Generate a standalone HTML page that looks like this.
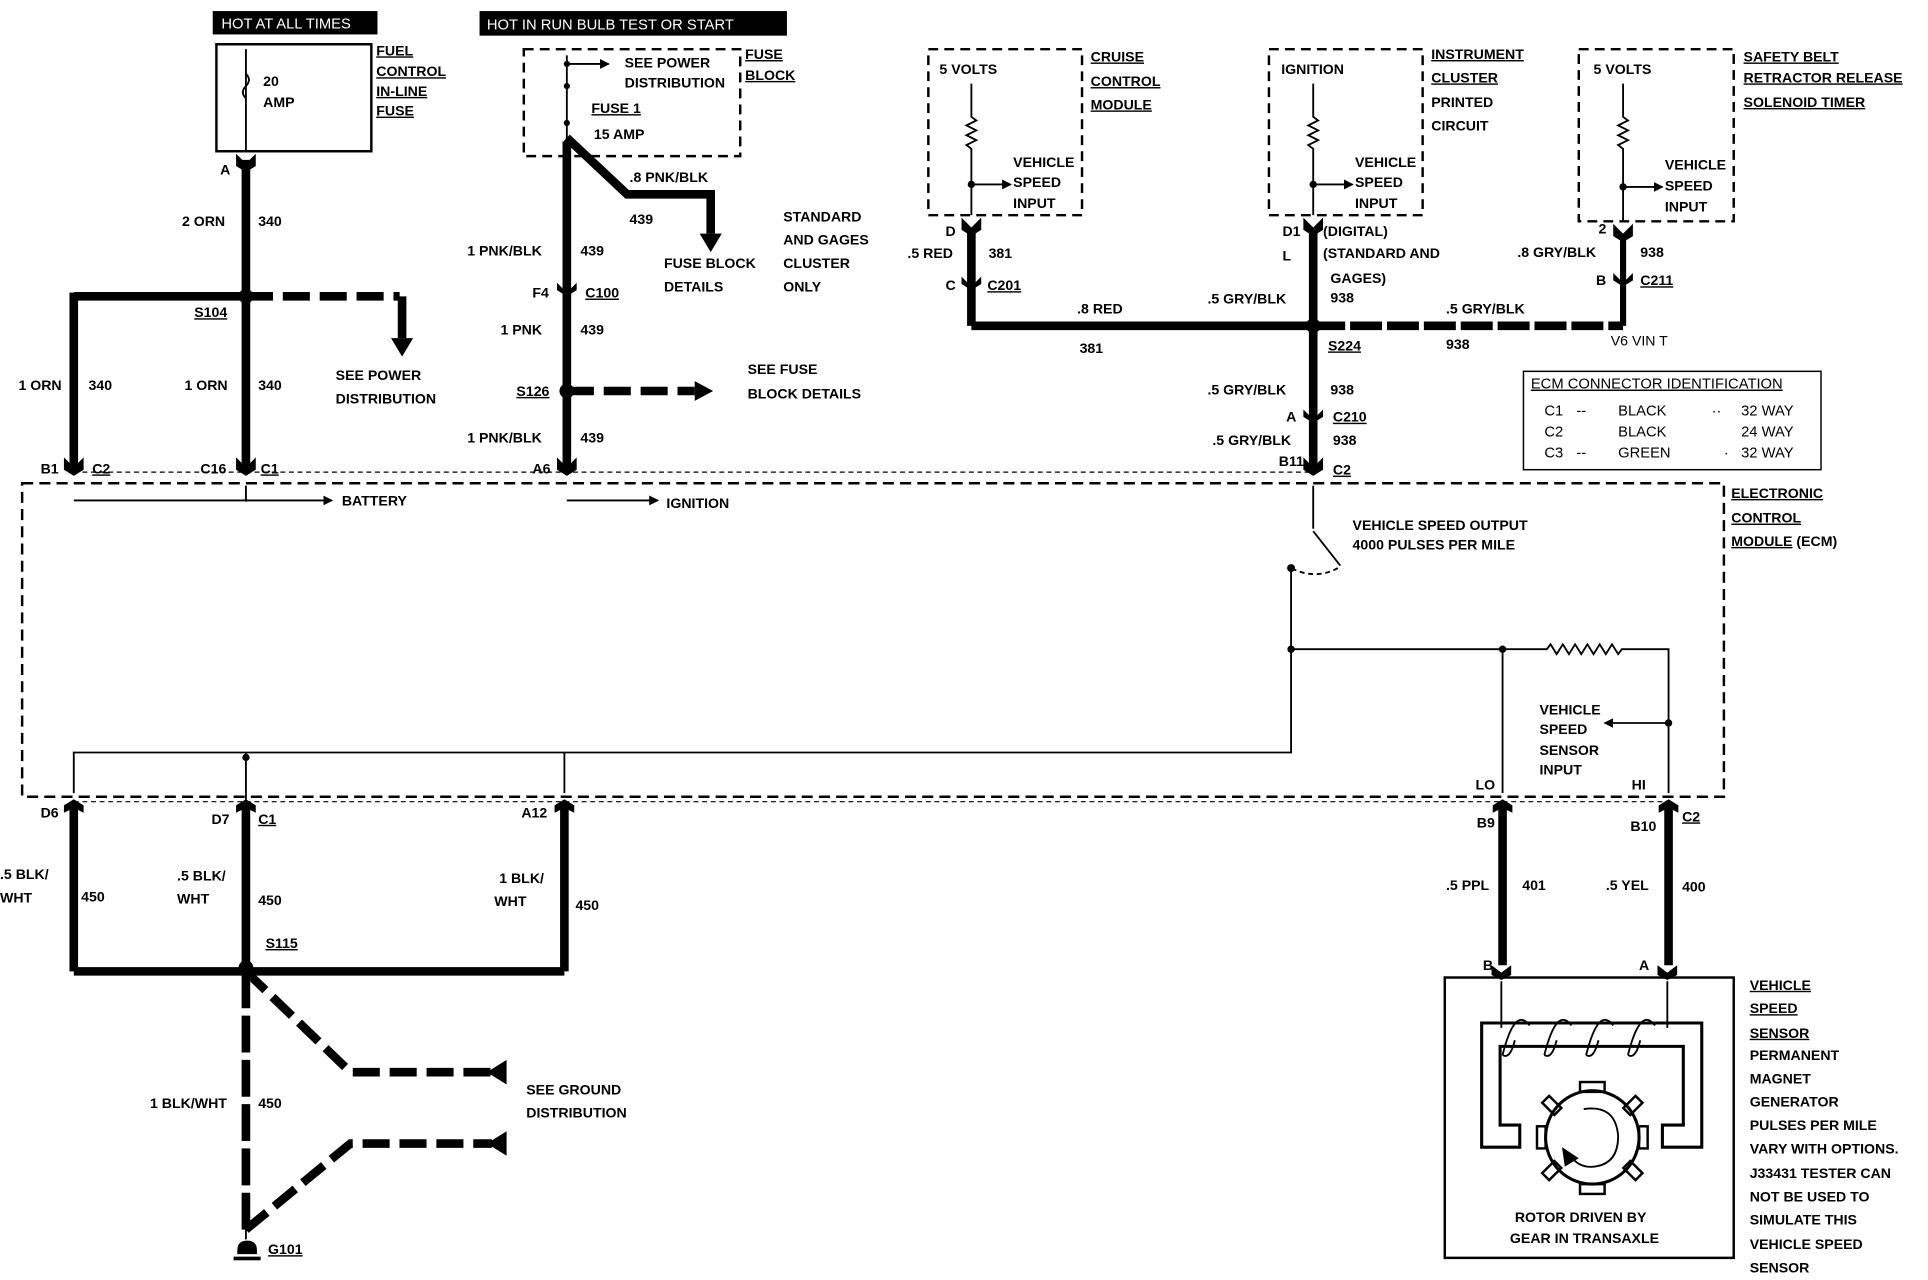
<!DOCTYPE html>
<html><head><meta charset="utf-8"><style>
html,body{margin:0;padding:0;background:#fff}
svg{display:block}
text{font-family:"Liberation Sans",sans-serif;font-weight:bold;font-size:11.5px;fill:#000}
.u{text-decoration:underline}
.n{font-weight:normal;font-size:12px}
</style></head><body>
<svg width="1928" height="1280" viewBox="0 0 1568 1041" preserveAspectRatio="none" xmlns="http://www.w3.org/2000/svg">
<defs>
<marker id="ar" markerWidth="8" markerHeight="8" refX="7" refY="4" orient="auto" markerUnits="userSpaceOnUse"><path d="M0,0 L8,4 L0,8 z" fill="#000"/></marker>
</defs>
<g stroke="#000" fill="none">
<rect x="176" y="36" width="126" height="87" stroke-width="2"/>
<line x1="200" y1="40" x2="200" y2="123" stroke-width="1.5"/>
<path d="M200,60 q5,5 0,10 q-5,5 0,10" stroke-width="1.5"/>
<line x1="200" y1="130" x2="200" y2="380" stroke-width="7"/>
<line x1="60" y1="241" x2="200" y2="241" stroke-width="7"/>
<line x1="60" y1="238" x2="60" y2="380" stroke-width="7"/>
<line x1="200" y1="241" x2="325" y2="241" stroke-width="7" stroke-dasharray="22,8"/>
<line x1="327" y1="241" x2="327" y2="275" stroke-width="7"/>
<rect x="426" y="40" width="176" height="87" stroke-width="2" stroke-dasharray="8,5"/>
<line x1="461" y1="45" x2="461" y2="115" stroke-width="1.5"/>
<line x1="461" y1="52" x2="495" y2="52" stroke-width="1.5" marker-end="url(#ar)"/>
<line x1="461" y1="115" x2="461" y2="380" stroke-width="7"/>
<path d="M461,112 L510,158 L578,158 L578,190" stroke-width="7"/>
<line x1="461" y1="318" x2="565" y2="318" stroke-width="7" stroke-dasharray="22,8"/>
<rect x="18" y="393" width="1384" height="255" stroke-width="2" stroke-dasharray="9,5"/>
<line x1="60" y1="384" x2="1068" y2="384" stroke-width="1" stroke-dasharray="4,3"/>
<line x1="60" y1="652" x2="1357" y2="652" stroke-width="1" stroke-dasharray="4,3"/>
<line x1="200" y1="395" x2="200" y2="408" stroke-width="1.5"/>
<line x1="60" y1="407" x2="270" y2="407" stroke-width="1.5" marker-end="url(#ar)"/>
<line x1="461" y1="407" x2="535" y2="407" stroke-width="1.5" marker-end="url(#ar)"/>
<rect x="755" y="40" width="125" height="135" stroke-width="2" stroke-dasharray="8,5"/>
<rect x="1032" y="40" width="125" height="135" stroke-width="2" stroke-dasharray="8,5"/>
<rect x="1284" y="40" width="126" height="140" stroke-width="2" stroke-dasharray="8,5"/>
<g stroke-width="1.5">
<path d="M790,68 V95 l4,3 -8,4 8,4 -8,4 8,4 -8,4 4,3 V175"/>
<line x1="790" y1="150" x2="822" y2="150" marker-end="url(#ar)"/>
<path d="M1068,68 V95 l4,3 -8,4 8,4 -8,4 8,4 -8,4 4,3 V175"/>
<line x1="1068" y1="150" x2="1100" y2="150" marker-end="url(#ar)"/>
<path d="M1320,68 V95 l4,3 -8,4 8,4 -8,4 8,4 -8,4 4,3 V180"/>
<line x1="1320" y1="152" x2="1352" y2="152" marker-end="url(#ar)"/>
</g>
<line x1="790" y1="185" x2="790" y2="265" stroke-width="7"/>
<line x1="790" y1="265" x2="1068" y2="265" stroke-width="7"/>
<line x1="1068" y1="185" x2="1068" y2="380" stroke-width="7"/>
<line x1="1068" y1="265" x2="1320" y2="265" stroke-width="7" stroke-dasharray="26,4"/>
<line x1="1320" y1="190" x2="1320" y2="265" stroke-width="5"/>
<g stroke-width="1.5">
<line x1="1068" y1="395" x2="1068" y2="430"/>
<path d="M1068,432 L1090,460"/>
<path d="M1088,462 q-18,10 -38,0" stroke-dasharray="4,3"/>
<circle cx="1050" cy="462" r="2.5" fill="#000"/>
<path d="M1050,462 V612 H60 V645"/>
<line x1="200" y1="612" x2="200" y2="645"/>
<line x1="459" y1="612" x2="459" y2="645"/>
<path d="M1050,528 H1258 l3,-4 5,8 5,-8 5,8 5,-8 5,8 5,-8 5,8 5,-8 5,8 5,-8 5,8 3,-4 H1357 V645"/>
<line x1="1222" y1="528" x2="1222" y2="645"/>
<line x1="1357" y1="588" x2="1305" y2="588" marker-end="url(#ar)"/>
</g>
<line x1="60" y1="655" x2="60" y2="790" stroke-width="7"/>
<line x1="459" y1="655" x2="459" y2="790" stroke-width="7"/>
<line x1="60" y1="790" x2="459" y2="790" stroke-width="7"/>
<line x1="200" y1="655" x2="200" y2="790" stroke-width="7"/>
<line x1="200" y1="790" x2="200" y2="1000" stroke-width="7" stroke-dasharray="30,6"/>
<path d="M200,790 L285,872 H400" stroke-width="7" stroke-dasharray="22,8"/>
<path d="M200,1000 L285,930 H400" stroke-width="7" stroke-dasharray="22,8"/>
<line x1="1222" y1="655" x2="1222" y2="785" stroke-width="7"/>
<line x1="1357" y1="655" x2="1357" y2="785" stroke-width="7"/>
<rect x="1175" y="795" width="235" height="228" stroke-width="2"/>
<path d="M1221,798 V836 M1356,798 V836" stroke-width="1.5"/>
<path d="M1205,832 H1384 V933 H1352 V915 H1369 V851 H1220 V915 H1236 V933 H1205 Z" stroke-width="2.5"/>
<path d="M1222,858 q10,-40 22,-24 M1256,858 q10,-40 22,-24 M1290,858 q10,-40 22,-24 M1324,858 q10,-40 22,-24" stroke-width="1.5"/>
<path d="M1222,858 q6,4 10,-12 M1256,858 q6,4 10,-12 M1290,858 q6,4 10,-12 M1324,858 q6,4 10,-12" stroke-width="1.5"/>
<circle cx="1295" cy="925" r="38" stroke-width="2.5"/>
<path d="M1288,902 q26,-4 28,22 q0,24 -22,25 q-10,0 -16,-8" stroke-width="1.5"/>
<path d="M1271,934 l2,14 10,-6 z" fill="#000"/>
<rect x="1285" y="880" width="20" height="8" stroke-width="2"/>
<rect x="1285" y="963" width="20" height="8" stroke-width="2"/>
<rect x="1250" y="916" width="7" height="18" stroke-width="2"/>
<rect x="1333" y="916" width="7" height="18" stroke-width="2"/>
<rect x="1258" y="892" width="8" height="14" stroke-width="2" transform="rotate(-45 1262 899)"/>
<rect x="1324" y="892" width="8" height="14" stroke-width="2" transform="rotate(45 1328 899)"/>
<rect x="1258" y="945" width="8" height="14" stroke-width="2" transform="rotate(45 1262 952)"/>
<rect x="1324" y="945" width="8" height="14" stroke-width="2" transform="rotate(-45 1328 952)"/>
</g>
<g fill="#000">
<path d="M318,275 L336,275 L327,290 z"/>
<path d="M569,190 L587,190 L578,205 z"/>
<path d="M565,310 L580,318 L565,326 z"/>
<path d="M396,872 L412,862 L412,882 z"/>
<path d="M396,930 L412,920 L412,940 z"/>
<path d="M52,372 l8,8 8,-8 v10 l-8,5 -8,-5 z"/>
<path d="M192,372 l8,8 8,-8 v10 l-8,5 -8,-5 z"/>
<path d="M453,372 l8,8 8,-8 v10 l-8,5 -8,-5 z"/>
<path d="M1060,372 l8,8 8,-8 v10 l-8,5 -8,-5 z"/>
<path d="M192,125 l8,8 8,-8 v10 l-8,5 -8,-5 z"/>
<path d="M782,177 l8,8 8,-8 v10 l-8,5 -8,-5 z"/>
<path d="M1060,177 l8,8 8,-8 v10 l-8,5 -8,-5 z"/>
<path d="M1312,182 l8,8 8,-8 v10 l-8,5 -8,-5 z"/>
<path d="M453,230 l8,8 8,-8 v6 l-8,5 -8,-5 z"/>
<path d="M782,225 l8,8 8,-8 v6 l-8,5 -8,-5 z"/>
<path d="M1312,222 l8,8 8,-8 v6 l-8,5 -8,-5 z"/>
<path d="M1060,333 l8,8 8,-8 v6 l-8,5 -8,-5 z"/>
<path d="M52,655 l8,-5 8,5 v6 l-8,-4 -8,4 z"/>
<path d="M192,655 l8,-5 8,5 v6 l-8,-4 -8,4 z"/>
<path d="M451,655 l8,-5 8,5 v6 l-8,-4 -8,4 z"/>
<path d="M1214,655 l8,-5 8,5 v6 l-8,-4 -8,4 z"/>
<path d="M1349,655 l8,-5 8,5 v6 l-8,-4 -8,4 z"/>
<path d="M1213,785 l8,6 8,-6 v8 l-8,4 -8,-4 z"/>
<path d="M1348,785 l8,6 8,-6 v8 l-8,4 -8,-4 z"/>
<circle cx="200" cy="241" r="6"/><circle cx="461" cy="318" r="6"/>
<circle cx="1068" cy="265" r="6"/><circle cx="200" cy="787" r="6"/>
<circle cx="200" cy="616" r="3"/><circle cx="1050" cy="528" r="3"/>
<circle cx="1222" cy="528" r="3"/><circle cx="1357" cy="588" r="3"/>
<circle cx="790" cy="150" r="3"/><circle cx="1068" cy="150" r="3"/><circle cx="1320" cy="152" r="3"/>
<circle cx="461" cy="52" r="2.5"/><circle cx="461" cy="70" r="2.5"/><circle cx="461" cy="100" r="2.5"/>
<rect x="173" y="9" width="134" height="19"/>
<rect x="390" y="9" width="250" height="20"/>
<path d="M193,1020 h16 v-3 q0,-8 -8,-8 q-8,0 -8,8 z"/>
<rect x="190" y="1022" width="22" height="3"/>
</g>
<g stroke="#000" fill="none" stroke-width="1.5">
<line x1="200" y1="645" x2="200" y2="655"/>
<line x1="200" y1="1000" x2="200" y2="1008"/>
</g>
<text x="180" y="23" style="fill:#fff;font-weight:normal;font-size:12px">HOT AT ALL TIMES</text>
<text x="396" y="24" style="fill:#fff;font-weight:normal;font-size:12px">HOT IN RUN  BULB TEST OR START</text>
<text x="214" y="70" font-size="9">20</text><text x="214" y="87" font-size="9">AMP</text>
<text x="306" y="45" class="u">FUEL</text><text x="306" y="62" class="u">CONTROL</text><text x="306" y="78" class="u">IN-LINE</text><text x="306" y="94" class="u">FUSE</text>
<text x="179" y="142">A</text>
<text x="148" y="184">2 ORN</text><text x="210" y="184">340</text>
<text x="158" y="258" class="u">S104</text>
<text x="273" y="309">SEE POWER</text><text x="273" y="328">DISTRIBUTION</text>
<text x="15" y="317">1 ORN</text><text x="72" y="317">340</text><text x="150" y="317">1 ORN</text><text x="210" y="317">340</text>
<text x="33" y="385">B1</text><text x="75" y="385" class="u">C2</text><text x="163" y="385">C16</text><text x="212" y="385" class="u">C1</text>
<text x="278" y="411" font-size="10.5">BATTERY</text><text x="542" y="413" font-size="10.5">IGNITION</text>
<text x="508" y="55" font-size="10">SEE POWER</text><text x="508" y="71" font-size="10">DISTRIBUTION</text>
<text x="481" y="92" class="u">FUSE 1</text><text x="483" y="113" font-size="10">15 AMP</text>
<text x="606" y="48" class="u">FUSE</text><text x="606" y="65" class="u">BLOCK</text>
<text x="512" y="148">.8 PNK/BLK</text><text x="512" y="182">439</text>
<text x="540" y="218">FUSE BLOCK</text><text x="540" y="237">DETAILS</text>
<text x="637" y="180">STANDARD</text><text x="637" y="199">AND GAGES</text><text x="637" y="218">CLUSTER</text><text x="637" y="237">ONLY</text>
<text x="380" y="208">1 PNK/BLK</text><text x="472" y="208">439</text>
<text x="433" y="242">F4</text><text x="476" y="242" class="u">C100</text>
<text x="407" y="272">1 PNK</text><text x="472" y="272">439</text>
<text x="420" y="322" class="u">S126</text>
<text x="608" y="304">SEE FUSE</text><text x="608" y="324">BLOCK DETAILS</text>
<text x="380" y="360">1 PNK/BLK</text><text x="472" y="360">439</text><text x="433" y="385">A6</text>
<text x="764" y="60" font-size="10">5 VOLTS</text><text x="824" y="136" font-size="10">VEHICLE</text><text x="824" y="152" font-size="10">SPEED</text><text x="824" y="169" font-size="10">INPUT</text>
<text x="887" y="50" class="u">CRUISE</text><text x="887" y="70" class="u">CONTROL</text><text x="887" y="89" class="u">MODULE</text>
<text x="1042" y="60" font-size="10">IGNITION</text><text x="1102" y="136" font-size="10">VEHICLE</text><text x="1102" y="152" font-size="10">SPEED</text><text x="1102" y="169" font-size="10">INPUT</text>
<text x="1164" y="48" class="u">INSTRUMENT</text><text x="1164" y="67" class="u">CLUSTER</text><text x="1164" y="87">PRINTED</text><text x="1164" y="106">CIRCUIT</text>
<text x="1296" y="60" font-size="10">5 VOLTS</text><text x="1354" y="138" font-size="10">VEHICLE</text><text x="1354" y="155" font-size="10">SPEED</text><text x="1354" y="172" font-size="10">INPUT</text>
<text x="1418" y="50" class="u">SAFETY BELT</text><text x="1418" y="67" class="u">RETRACTOR RELEASE</text><text x="1418" y="87" class="u">SOLENOID TIMER</text>
<text x="769" y="192">D</text><text x="738" y="210">.5 RED</text><text x="804" y="210">381</text>
<text x="769" y="236">C</text><text x="803" y="236" class="u">C201</text>
<text x="876" y="255">.8 RED</text><text x="878" y="287">381</text>
<text x="982" y="247">.5 GRY/BLK</text>
<text x="1043" y="192">D1</text><text x="1076" y="192">(DIGITAL)</text>
<text x="1043" y="212">L</text><text x="1076" y="210">(STANDARD AND</text><text x="1082" y="230">GAGES)</text><text x="1082" y="246">938</text>
<text x="1234" y="209">.8 GRY/BLK</text><text x="1300" y="190">2</text><text x="1334" y="209">938</text>
<text x="1298" y="232">B</text><text x="1334" y="232" class="u">C211</text>
<text x="1176" y="255">.5 GRY/BLK</text><text x="1176" y="284">938</text>
<text x="1080" y="285" class="u">S224</text>
<text x="1310" y="281" style="font-weight:normal">V6 VIN T</text>
<text x="982" y="321">.5 GRY/BLK</text><text x="1082" y="321">938</text>
<text x="1046" y="343">A</text><text x="1084" y="343" class="u">C210</text>
<text x="986" y="362">.5 GRY/BLK</text><text x="1084" y="362">938</text>
<text x="1040" y="379">B11</text><text x="1084" y="386" class="u">C2</text>
<rect x="1239" y="302" width="242" height="80" fill="none" stroke="#000" stroke-width="1.2"/>
<text x="1245" y="316" class="u n">ECM CONNECTOR IDENTIFICATION</text>
<text x="1256" y="338" class="n">C1</text><text x="1282" y="338" class="n">--</text><text x="1316" y="338" class="n">BLACK</text><text x="1392" y="338" class="n">··</text><text x="1416" y="338" class="n">32 WAY</text>
<text x="1256" y="355" class="n">C2</text><text x="1316" y="355" class="n">BLACK</text><text x="1416" y="355" class="n">24 WAY</text>
<text x="1256" y="372" class="n">C3</text><text x="1282" y="372" class="n">--</text><text x="1316" y="372" class="n">GREEN</text><text x="1402" y="372" class="n">·</text><text x="1416" y="372" class="n">32 WAY</text>
<text x="1408" y="405" class="u">ELECTRONIC</text><text x="1408" y="425" class="u">CONTROL</text><text x="1408" y="444"><tspan class="u">MODULE</tspan> (ECM)</text>
<text x="1100" y="431" font-size="10.5">VEHICLE SPEED OUTPUT</text><text x="1100" y="447" font-size="10.5">4000 PULSES PER MILE</text>
<text x="1252" y="581" font-size="10.5">VEHICLE</text><text x="1252" y="597" font-size="10.5">SPEED</text><text x="1252" y="614" font-size="10.5">SENSOR</text><text x="1252" y="630" font-size="10.5">INPUT</text>
<text x="1200" y="642" font-size="10">LO</text><text x="1327" y="642" font-size="10">HI</text>
<text x="33" y="665">D6</text><text x="172" y="670">D7</text><text x="210" y="670" class="u">C1</text><text x="424" y="665">A12</text>
<text x="1201" y="673">B9</text><text x="1326" y="676">B10</text><text x="1368" y="668" class="u">C2</text>
<text x="0" y="715">.5 BLK/</text><text x="0" y="734">WHT</text><text x="66" y="733">450</text>
<text x="144" y="716">.5 BLK/</text><text x="144" y="735">WHT</text><text x="210" y="736">450</text>
<text x="406" y="718">1 BLK/</text><text x="402" y="737">WHT</text><text x="468" y="740">450</text>
<text x="216" y="771" class="u">S115</text>
<text x="1176" y="724">.5 PPL</text><text x="1238" y="724">401</text><text x="1306" y="724">.5 YEL</text><text x="1368" y="725">400</text>
<text x="1206" y="789">B</text><text x="1333" y="789">A</text>
<text x="428" y="890">SEE GROUND</text><text x="428" y="909">DISTRIBUTION</text>
<text x="122" y="901">1 BLK/WHT</text><text x="210" y="901">450</text>
<text x="218" y="1020" class="u">G101</text>
<text x="1232" y="994" font-size="10.5">ROTOR DRIVEN BY</text><text x="1228" y="1011" font-size="10.5">GEAR IN TRANSAXLE</text>
<text x="1423" y="805" class="u">VEHICLE</text><text x="1423" y="824" class="u">SPEED</text><text x="1423" y="844" class="u">SENSOR</text>
<text x="1423" y="862">PERMANENT</text><text x="1423" y="881">MAGNET</text><text x="1423" y="900">GENERATOR</text>
<text x="1423" y="919">PULSES PER MILE</text><text x="1423" y="938">VARY WITH OPTIONS.</text>
<text x="1423" y="958">J33431 TESTER CAN</text><text x="1423" y="977">NOT BE USED TO</text>
<text x="1423" y="996">SIMULATE THIS</text><text x="1423" y="1016">VEHICLE SPEED</text><text x="1423" y="1035">SENSOR</text>
</svg>
</body></html>
